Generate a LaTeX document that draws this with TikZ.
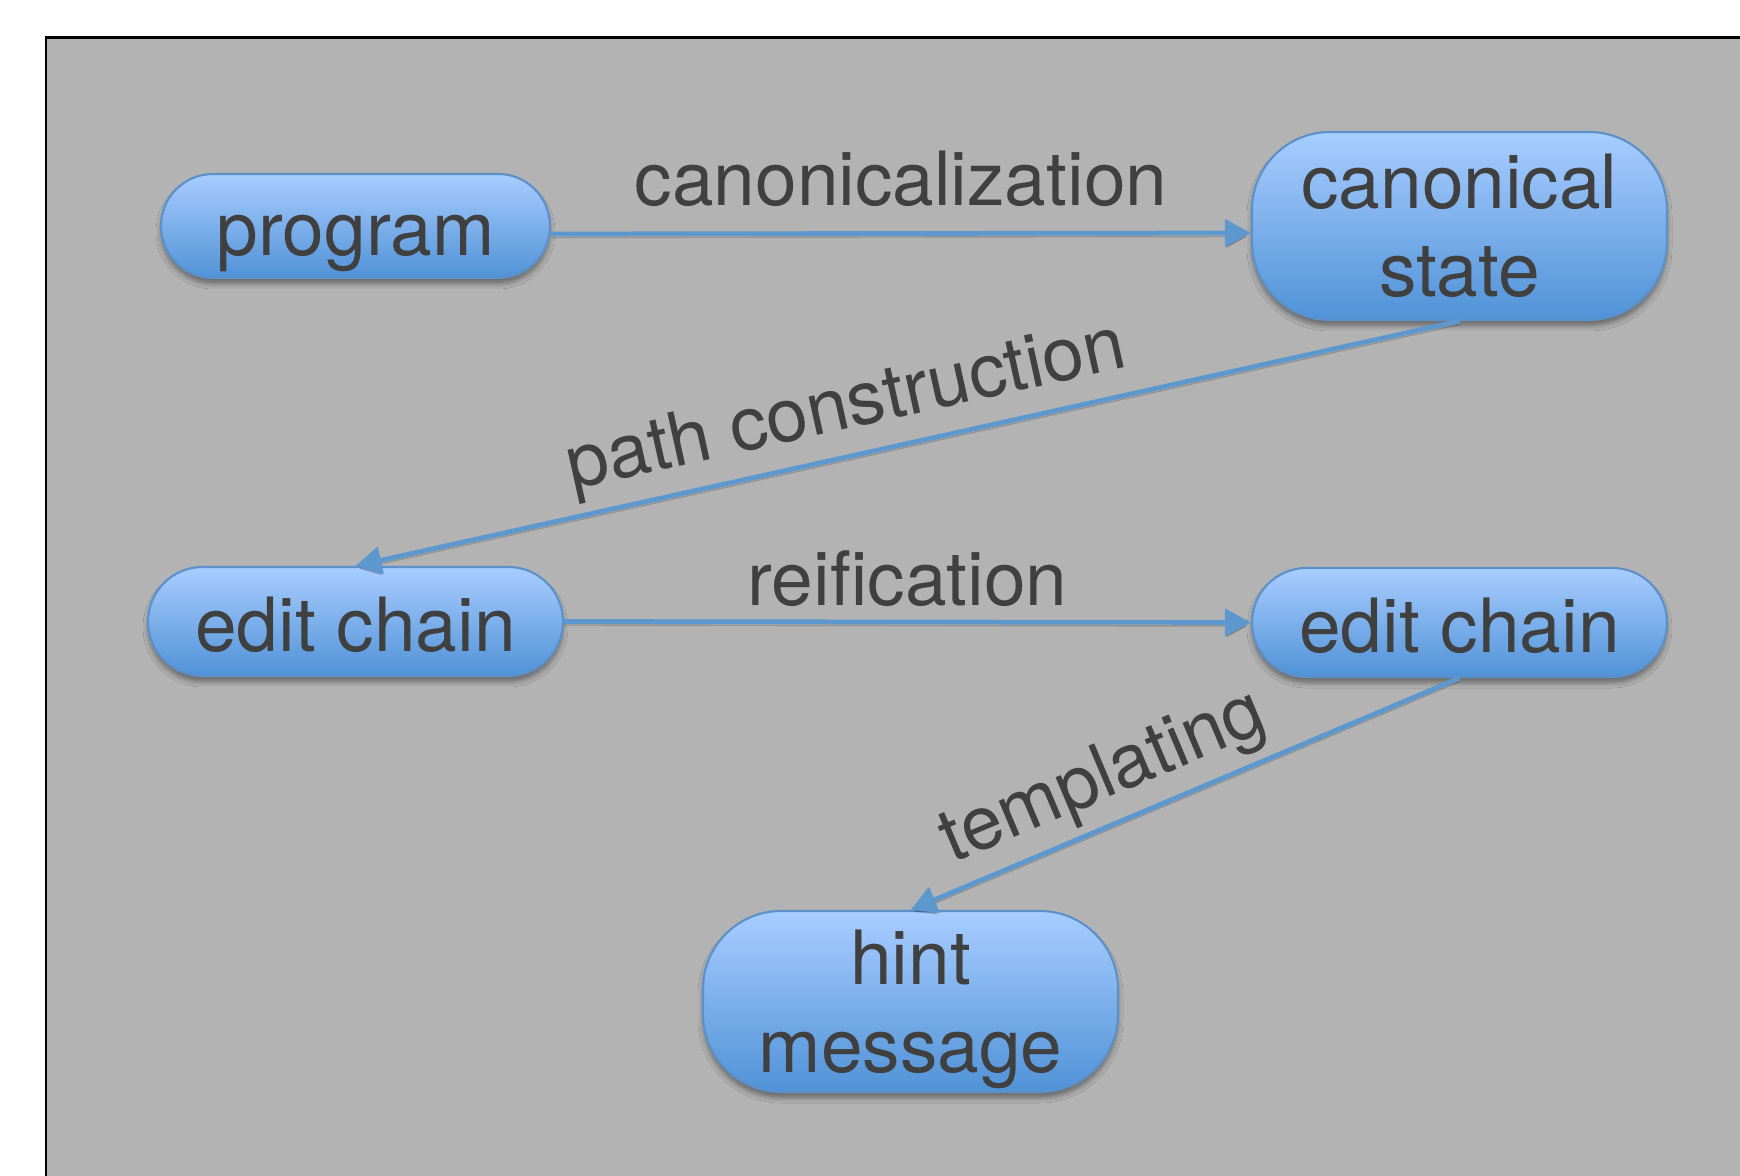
\documentclass[tikz,border=0pt]{standalone}
\usepackage{fontspec}
\setmainfont{TeX Gyre Heros}
\usetikzlibrary{shapes.misc,arrows.meta,shadows.blur,positioning}
\definecolor{bggray}{RGB}{179,179,179}
\definecolor{txtgray}{RGB}{64,64,64}
\definecolor{nodetop}{RGB}{168,205,255}
\definecolor{nodebot}{RGB}{80,146,215}
\definecolor{nodeborder}{RGB}{92,144,200}
\definecolor{arrowblue}{RGB}{92,151,206}
\tikzset{
  boxbase/.style={draw=nodeborder, line width=0.6pt, top color=nodetop, bottom color=nodebot,
    text=txtgray, font=\fontsize{21.3pt}{25pt}\selectfont, inner sep=0pt, align=center,
    blur shadow={shadow xshift=0pt, shadow yshift=-0.06cm, shadow blur radius=0.05cm, shadow opacity=40}},
  pill/.style={boxbase, rounded rectangle, text height=0.75cm, text depth=0.15cm},
  roundbox/.style={boxbase, rectangle, rounded corners=0.78cm},
  conn/.style={draw=arrowblue, line width=1.35pt, -{Triangle[length=0.26cm, width=0.27cm]},
    preaction={draw=black, opacity=0.18, transform canvas={yshift=-0.035cm}}},
  lbl/.style={text=txtgray, font=\fontsize{21.3pt}{25pt}\selectfont, inner sep=0pt, text depth=0pt}
}
\begin{document}
\begin{tikzpicture}[x=1cm,y=1cm]
\useasboundingbox (0,0) rectangle (17.40,-11.76);
\clip (0,0) rectangle (17.40,-11.76);
\draw[fill=bggray, draw=black, line width=0.7pt] (0.46,-0.375) rectangle (18,-12.5);

\node[pill, minimum width=3.89cm, minimum height=1.04cm] (prog) at (3.555,-2.26) {program};
\node[roundbox, minimum width=4.15cm, minimum height=1.88cm] (canon) at (14.595,-2.26) {canonical\\state};
\node[pill, minimum width=4.15cm, minimum height=1.09cm] (edit1) at (3.555,-6.215) {edit chain};
\node[pill, minimum width=4.15cm, minimum height=1.09cm] (edit2) at (14.595,-6.225) {edit chain};
\node[roundbox, minimum width=4.15cm, minimum height=1.81cm, text depth=0pt] (hint) at (9.105,-10.015) {hint\\message};

\draw[conn] ([yshift=-0.08cm]prog.east) -- node[lbl, midway, above=0.26cm] (lcanon) {canonicalization} ([yshift=-0.07cm]canon.west);
\draw[conn] (canon.south) -- node[lbl, pos=0.546, sloped, above=0.25cm] (lpath) {path construction} (edit1.north);
\draw[conn] (edit1.east) -- node[lbl, pos=0.5, above=0.14cm] (lreif) {reification} (edit2.west);
\draw[conn] (edit2.south) -- node[lbl, pos=0.615, sloped, above=0.24cm] (ltempl) {templating} (hint.north);
\end{tikzpicture}
\end{document}
